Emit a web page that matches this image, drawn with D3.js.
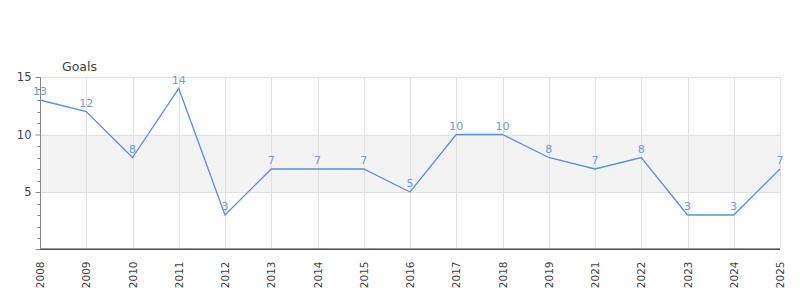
<!DOCTYPE html>
<html>
<head>
<meta charset="utf-8">
<script src="https://cdn.jsdelivr.net/npm/d3@7"></script>
<style>
  html, body { margin: 0; padding: 0; background: #fff; }
  svg { display: block; font-family: "DejaVu Sans", sans-serif; }
</style>
</head>
<body>
<svg id="chart" width="800" height="300"></svg>
<script>
const categories = ["2008","2009","2010","2011","2012","2013","2014","2015","2016","2017","2018","2019","2021","2022","2023","2024","2025"];
const goals = [13,12,8,14,3,7,7,7,5,10,10,8,7,8,3,3,7];
const yMajorTicks = [5, 10, 15];
const bandRange = [5, 10];
const seriesName = "Goals";

(function () {
const svg = d3.select("#chart");
const pLeft = 40, pRight = 780, pTop = 77, pBottom = 249.5;

const x = d3.scalePoint().domain(categories).range([pLeft, pRight]);
const y = d3.scaleLinear().domain([0, 15]).range([pBottom, pTop]);

// band
svg.append("rect")
  .attr("x", pLeft).attr("width", pRight - pLeft)
  .attr("y", y(bandRange[1])).attr("height", y(bandRange[0]) - y(bandRange[1]))
  .attr("fill", "#f3f3f3");

// horizontal grid lines
svg.append("g").selectAll("line").data(yMajorTicks).join("line")
  .attr("x1", pLeft).attr("x2", pRight)
  .attr("y1", d => Math.round(y(d)) + 0.5).attr("y2", d => Math.round(y(d)) + 0.5)
  .attr("stroke", "#e2e2e2").attr("stroke-width", 1);

// vertical grid lines
svg.append("g").selectAll("line").data(categories).join("line")
  .attr("x1", d => Math.round(x(d)) + 0.5).attr("x2", d => Math.round(x(d)) + 0.5)
  .attr("y1", pTop).attr("y2", pBottom)
  .attr("stroke", "#e2e2e2").attr("stroke-width", 1);

// y axis (major)
const yAxis = d3.axisLeft(y).tickValues(yMajorTicks).tickSize(5).tickPadding(4);
const gy = svg.append("g").attr("transform", `translate(${pLeft + 0.5},0)`).call(yAxis);
gy.select(".domain").attr("stroke", "#888").attr("d", `M0,${pTop}V${pBottom}`);
gy.selectAll(".tick line").attr("stroke", "#888");
gy.selectAll(".tick text").attr("fill", "#444").style("font-size", "11.5px")
  .style("font-family", "DejaVu Sans, sans-serif");

// y minor ticks
const minor = d3.range(1, 15).filter(v => !yMajorTicks.includes(v));
gy.append("g").selectAll("line").data(minor).join("line")
  .attr("x1", -3).attr("x2", 0)
  .attr("y1", d => Math.round(y(d)) + 0.5).attr("y2", d => Math.round(y(d)) + 0.5)
  .attr("stroke", "#888");
gy.append("line").attr("x1", -5).attr("x2", 0)
  .attr("y1", Math.round(pBottom) - 0.5).attr("y2", Math.round(pBottom) - 0.5).attr("stroke", "#888");

// x axis
const xAxis = d3.axisBottom(x).tickSize(0).tickPadding(0);
const gx = svg.append("g").attr("transform", `translate(0,${pBottom})`).call(xAxis);
gx.select(".domain").remove();
gx.selectAll(".tick text")
  .attr("fill", "#444")
  .style("font-size", "10.5px")
  .style("font-family", "DejaVu Sans, sans-serif")
  .attr("transform", "rotate(-90)")
  .attr("text-anchor", "end")
  .attr("x", -12).attr("y", 0).attr("dy", "0.35em");

// bottom baseline
svg.append("line").attr("x1", pLeft).attr("x2", pRight)
  .attr("y1", pBottom - 1).attr("y2", pBottom - 1).attr("stroke", "#999").attr("stroke-width", 1);
svg.append("line").attr("x1", pLeft).attr("x2", pRight)
  .attr("y1", pBottom).attr("y2", pBottom).attr("stroke", "#d81818").attr("stroke-width", 1.2);

// series title
svg.append("text").attr("x", 62).attr("y", 71).text(seriesName)
  .attr("fill", "#444").style("font-size", "12.5px");

// line
const line = d3.line().x((d, i) => x(categories[i])).y(d => y(d));
svg.append("path").datum(goals).attr("d", line)
  .attr("fill", "none").attr("stroke", "#5a8fea").attr("stroke-width", 1.3);

// value labels
svg.append("g").selectAll("text").data(goals).join("text")
  .attr("x", (d, i) => x(categories[i]))
  .attr("y", d => y(d) - 5)
  .attr("text-anchor", "middle")
  .attr("fill", "#6e9cec")
  .style("font-size", "11px")
  .text(d => d);
})();
</script>
</body>
</html>
